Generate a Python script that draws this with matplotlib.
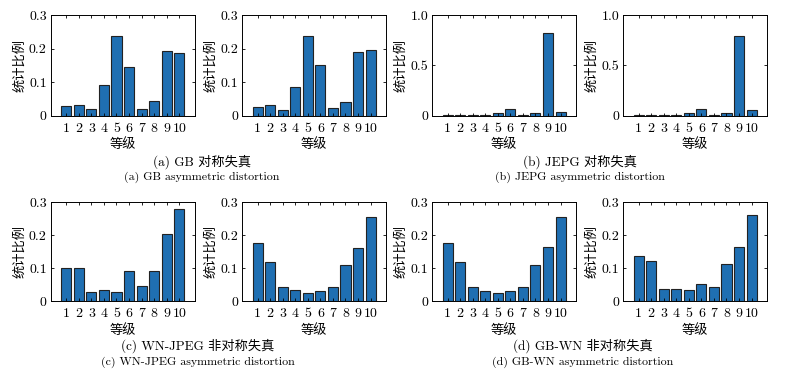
import matplotlib
matplotlib.use('Agg')
import matplotlib.pyplot as plt

# fonts: cmr10 for latin text, CJK font as fallback for Chinese
plt.rcParams['font.family'] = ['cmr10', 'Noto Sans CJK SC']
plt.rcParams['axes.formatter.use_mathtext'] = True
plt.rcParams['font.size'] = 9

# data
levels = [1, 2, 3, 4, 5, 6, 7, 8, 9, 10]
level_labels = ['1', '2', '3', '4', '5', '6', '7', '8', '9', '10']

gb_left = [0.029, 0.033, 0.019, 0.091, 0.239, 0.145, 0.021, 0.043, 0.194, 0.188]
gb_right = [0.025, 0.031, 0.018, 0.086, 0.238, 0.150, 0.022, 0.042, 0.191, 0.196]
jpeg_left = [0.003, 0.008, 0.004, 0.008, 0.022, 0.070, 0.005, 0.022, 0.825, 0.033]
jpeg_right = [0.003, 0.007, 0.003, 0.008, 0.022, 0.067, 0.005, 0.022, 0.793, 0.053]
wnjpeg_left = [0.101, 0.101, 0.028, 0.033, 0.027, 0.092, 0.045, 0.093, 0.202, 0.279]
wnjpeg_right = [0.175, 0.120, 0.043, 0.033, 0.026, 0.032, 0.043, 0.109, 0.162, 0.254]
gbwn_left = [0.176, 0.120, 0.043, 0.032, 0.026, 0.031, 0.043, 0.109, 0.163, 0.254]
gbwn_right = [0.136, 0.121, 0.038, 0.036, 0.033, 0.051, 0.044, 0.113, 0.163, 0.260]

small_ticks = [0, 0.1, 0.2, 0.3]
small_labels = ['0', '0.1', '0.2', '0.3']
big_ticks = [0, 0.5, 1.0]
big_labels = ['0', '0.5', '1.0']

captions_cn = ['(a) GB 对称失真', '(b) JEPG 对称失真',
               '(c) WN-JPEG 非对称失真', '(d) GB-WN 非对称失真']
captions_en = ['(a) GB asymmetric distortion', '(b) JEPG asymmetric distortion',
               '(c) WN-JPEG asymmetric distortion', '(d) GB-WN asymmetric distortion']

fig = plt.figure(figsize=(7.89, 3.79), dpi=100)

# panel layout (figure fractions)
lefts = [0.0646, 0.3071, 0.5479, 0.790]
width = 0.182
rows = [(0.6947, 0.265), (0.205, 0.262)]

panels = [
    (gb_left, small_ticks, small_labels, 0.3),
    (gb_right, small_ticks, small_labels, 0.3),
    (jpeg_left, big_ticks, big_labels, 1.0),
    (jpeg_right, big_ticks, big_labels, 1.0),
    (wnjpeg_left, small_ticks, small_labels, 0.3),
    (wnjpeg_right, small_ticks, small_labels, 0.3),
    (gbwn_left, small_ticks, small_labels, 0.3),
    (gbwn_right, small_ticks, small_labels, 0.3),
]

for i, (vals, yt, ytl, ymax) in enumerate(panels):
    bottom, height = rows[i // 4]
    ax = fig.add_axes([lefts[i % 4], bottom, width, height])
    ax.bar(levels, vals, width=0.8, color='#1f6fb2', edgecolor='#222222', linewidth=0.8)
    ax.set_xlim(-0.22, 11.22)
    ax.set_ylim(0, ymax)
    ax.set_xticks(levels, level_labels)
    ax.set_yticks(yt, ytl)
    ax.tick_params(direction='in', top=True, right=True, length=2.5, width=0.6,
                   labelsize=10, pad=3)
    ax.tick_params(axis='x', pad=5)
    ax.set_xlabel('等级', fontsize=9.5, labelpad=2.5)
    ax.set_ylabel('统计比例', fontsize=9.5, labelpad=2)
    for s in ax.spines.values():
        s.set_linewidth(0.7)

# captions under each pair of panels
cap_x = [202 / 789, 580 / 789, 198 / 789, 583 / 789]
cap_y = [(162, 177), (162, 177), (346, 362), (346, 362)]
for k in range(4):
    y1, y2 = cap_y[k]
    fig.text(cap_x[k], 1 - y1 / 379, captions_cn[k], ha='center', va='center', fontsize=9.5)
    fig.text(cap_x[k], 1 - y2 / 379, captions_en[k], ha='center', va='center', fontsize=8.6)

fig.savefig('out.png', dpi=100)
